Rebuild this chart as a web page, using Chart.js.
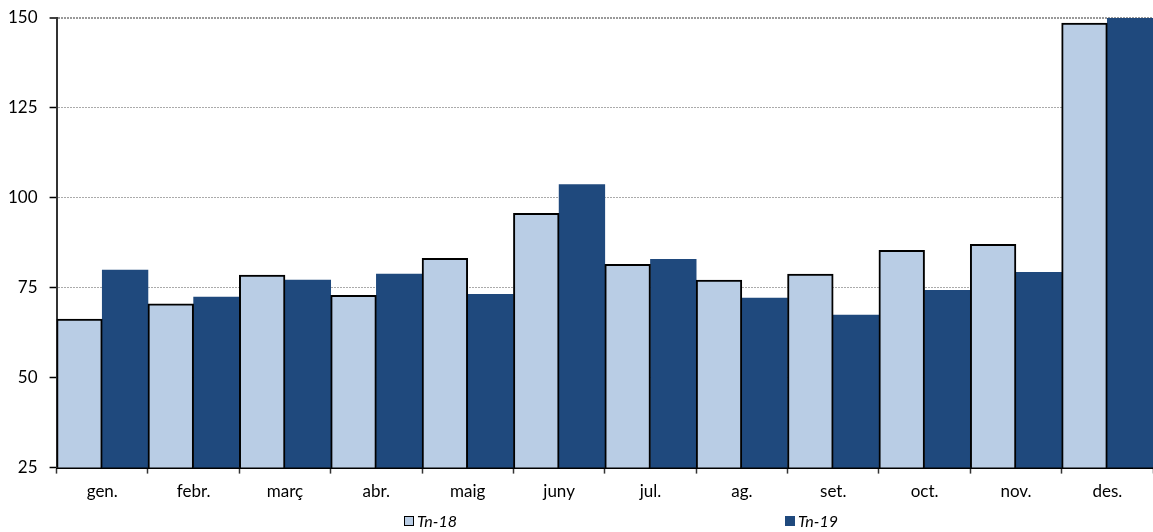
<!DOCTYPE html>
<html>
<head>
<meta charset="utf-8">
<script src="https://cdn.jsdelivr.net/npm/chart.js@4/dist/chart.umd.min.js"></script>
<style>
  body { margin: 0; background: #fff; }
  #wrap { position: relative; width: 1153px; height: 532px; }
  .leg { position: absolute; top: 511px; font: italic 16px Lato, sans-serif; color: #000; display: flex; align-items: center; }
  .box { width: 8px; height: 8px; margin-right: 3px; }
</style>
</head>
<body>
<div id="wrap">
  <canvas id="chart" width="1153" height="532"></canvas>
  <div class="leg" style="left:404px"><span class="box" style="background:#B9CDE5;border:1.5px solid #000"></span>Tn-18</div>
  <div class="leg" style="left:785px"><span class="box" style="background:#1F497D;width:10px;height:10px"></span>Tn-19</div>
</div>
<script>
const months = ["gen.", "febr.", "març", "abr.", "maig", "juny", "jul.", "ag.", "set.", "oct.", "nov.", "des."];
const tn18 = [66.3, 70.5, 78.5, 72.9, 83.2, 95.7, 81.5, 77.1, 78.8, 85.4, 87.1, 148.6];
const tn19 = [79.9, 72.4, 77.1, 78.8, 73.2, 103.7, 82.9, 72.1, 67.4, 74.3, 79.3, 160];
const yTicks = [25, 50, 75, 100, 125, 150];

new Chart(document.getElementById("chart"), {
  type: "bar",
  data: {
    labels: months,
    datasets: [
      { label: "Tn-18", data: tn18, backgroundColor: "#B9CDE5", borderColor: "#000", borderWidth: 2 },
      { label: "Tn-19", data: tn19, backgroundColor: "#1F497D", borderWidth: 0 }
    ]
  },
  options: {
    responsive: false,
    animation: false,
    categoryPercentage: 1,
    barPercentage: 1,
    layout: { padding: { top: 16, left: -4, right: 0, bottom: 22 } },
    plugins: { legend: { display: false }, tooltip: { enabled: false } },
    scales: {
      x: {
        grid: { offset: true, drawOnChartArea: false, tickLength: 6, tickColor: "#333", tickWidth: 1.5 },
        border: { color: "#000", width: 2 },
        ticks: { color: "#000", padding: 8, font: { family: "Lato", size: 17 } }
      },
      y: {
        min: 25,
        max: 150,
        afterBuildTicks: (axis) => { axis.ticks = yTicks.map(v => ({ value: v })); },
        grid: {
          color: (ctx) => ctx.tick && ctx.tick.value === 150 ? "#999" : ctx.tick && ctx.tick.value === 25 ? "rgba(0,0,0,0)" : "#aaa",
          lineWidth: (ctx) => ctx.tick && ctx.tick.value === 150 ? 2 : 1,
          tickLength: 7,
          tickColor: "#000",
          tickWidth: 1.5
        },
        border: { color: "#333", width: 2, dash: [2, 1] },
        ticks: { color: "#000", padding: 12, font: { family: "Lato", size: 17, lineHeight: 0.7 } }
      }
    }
  }
});
</script>
</body>
</html>
